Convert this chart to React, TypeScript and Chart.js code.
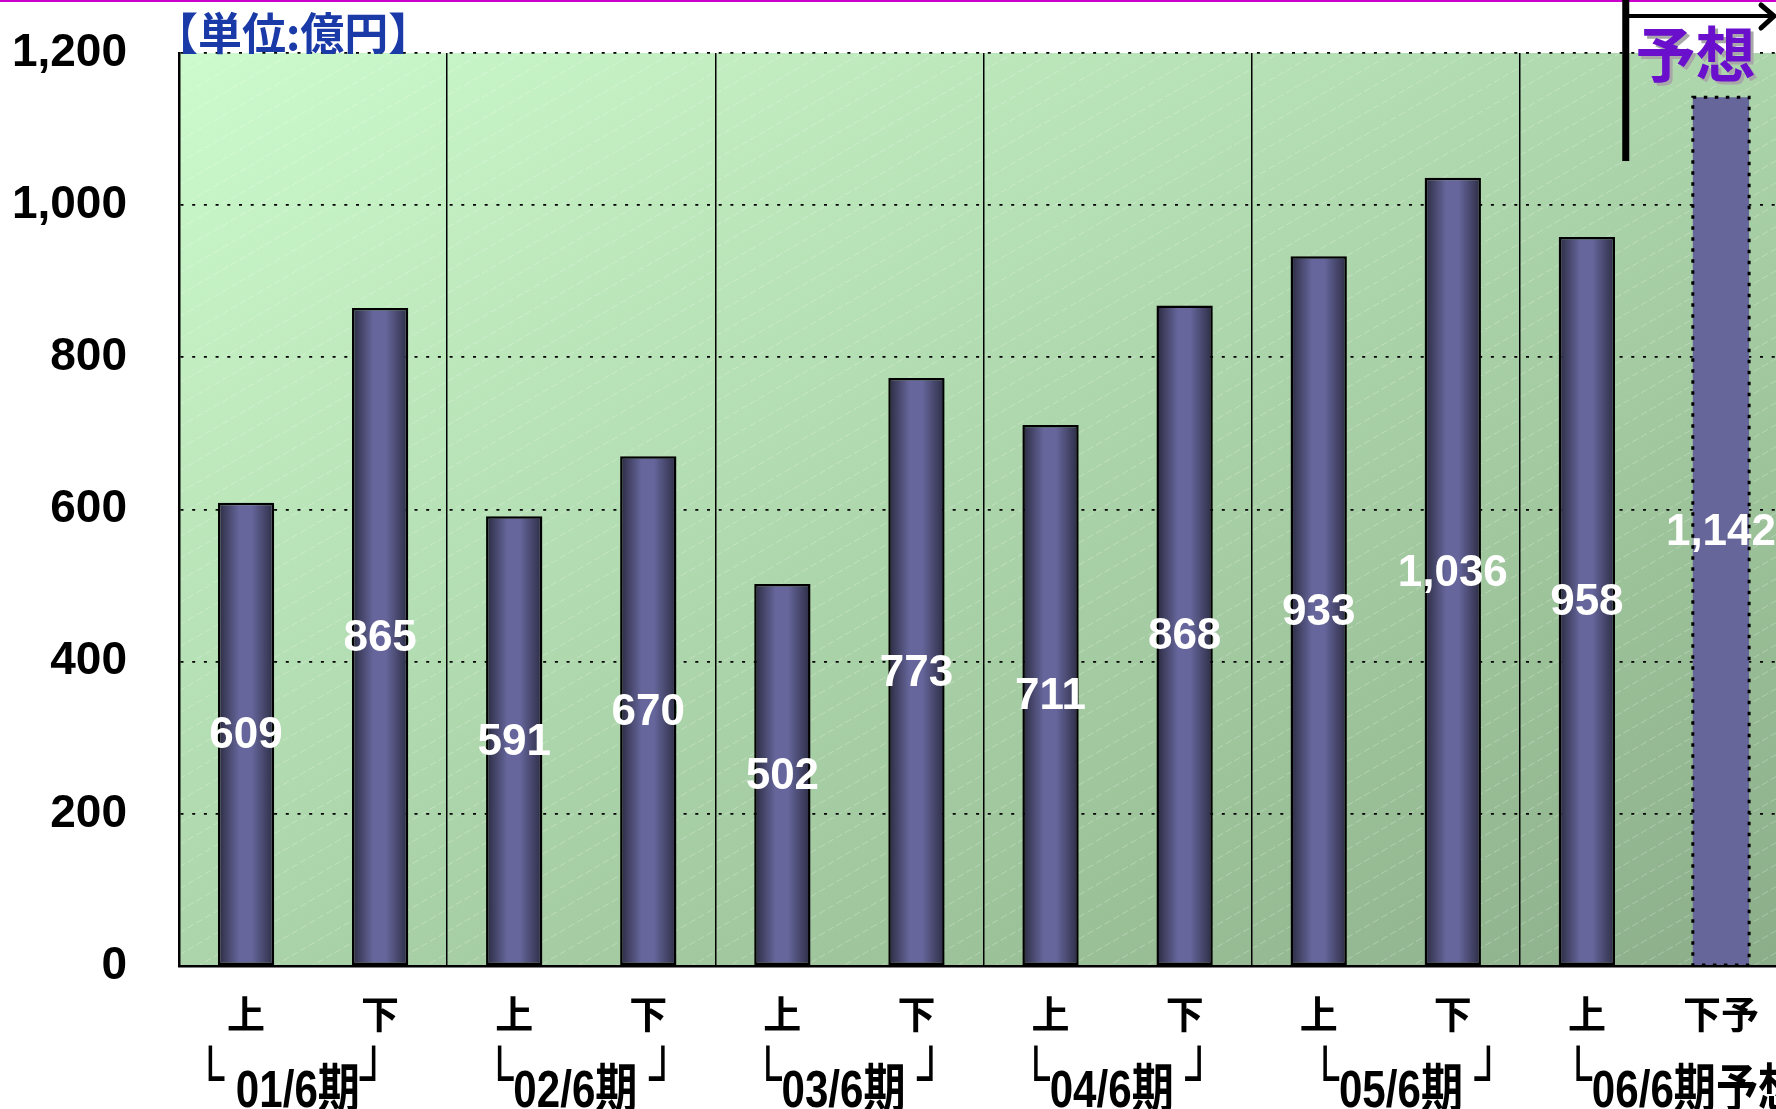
import React, { useEffect, useRef } from 'react';
import { Chart, registerables } from 'chart.js';

Chart.register(...registerables);

// ---- data ----
const halfLabels = ['上', '下', '上', '下', '上', '下', '上', '下', '上', '下', '上', '下予'];
const periodLabels = ['└ 01/6期┘　', '└02/6期 ┘', '└03/6期 ┘', '└04/6期 ┘', '　└05/6期 ┘', '　　└06/6期予想┘'];
const salesValues = [609, 865, 591, 670, 502, 773, 711, 868, 933, 1036, 958, 1142];
const forecastIndexes = [11];
const yMin = 0;
const yMax = 1200;
const yStep = 200;
const unitLabel = '【単位:億円】';
const forecastLabel = '予想';

const CW = 1792;
const CH = 1109;

const zeroPad = (s: any) => {
  s.paddingTop = 0;
  s.paddingBottom = 0;
  s.paddingLeft = 0;
  s.paddingRight = 0;
};

const BOX_CHARS = '└┘';

export default function App() {
  const ref = useRef<HTMLCanvasElement>(null);

  useEffect(() => {
    const canvas = ref.current;
    if (!canvas) return;

    const bgPlugin = {
      id: 'bgPlugin',
      beforeDraw(chart: any) {
        const { ctx, chartArea: a } = chart;
        const w = a.right - a.left;
        const h = a.bottom - a.top;
        const k = (2 * w * h) / (w * w + h * h);
        const g = ctx.createLinearGradient(a.left, a.top, a.left + k * h, a.top + k * w);
        g.addColorStop(0, '#cdfbcd');
        g.addColorStop(1, '#8bae88');
        ctx.save();
        ctx.fillStyle = g;
        ctx.fillRect(a.left, a.top, w, h);
        ctx.beginPath();
        ctx.rect(a.left, a.top, w, h);
        ctx.clip();
        ctx.strokeStyle = 'rgba(255,255,255,0.26)';
        ctx.lineWidth = 1;
        ctx.setLineDash([7, 3]);
        const slope = 0.58;
        for (let y0 = a.top; y0 < a.bottom + w * slope; y0 += 22) {
          ctx.beginPath();
          ctx.moveTo(a.left, y0);
          ctx.lineTo(a.right, y0 - w * slope);
          ctx.stroke();
        }
        ctx.restore();
      },
    };

    const barPlugin = {
      id: 'barPlugin',
      beforeDatasetsDraw(chart: any) {
        const { ctx } = chart;
        const meta = chart.getDatasetMeta(0);
        meta.data.forEach((el: any, i: number) => {
          if (forecastIndexes.includes(i)) return;
          const half = el.width / 2;
          const g = ctx.createLinearGradient(el.x - half, 0, el.x + half, 0);
          g.addColorStop(0, '#2a2a40');
          g.addColorStop(0.38, '#66669c');
          g.addColorStop(0.6, '#66669c');
          g.addColorStop(1, '#2c2c44');
          el.options = { ...el.options, backgroundColor: g };
        });
      },
      afterDatasetsDraw(chart: any) {
        const { ctx } = chart;
        const meta = chart.getDatasetMeta(0);
        ctx.save();
        meta.data.forEach((el: any, i: number) => {
          if (forecastIndexes.includes(i)) {
            const half = el.width / 2;
            ctx.strokeStyle = '#000';
            ctx.lineWidth = 3;
            ctx.setLineDash([3.5, 7.5]);
            ctx.strokeRect(el.x - half, el.y, el.width, el.base - el.y);
            ctx.setLineDash([]);
          }
        });
        ctx.fillStyle = '#ffffff';
        ctx.font = "bold 44px 'Liberation Sans', Arial, sans-serif";
        ctx.textAlign = 'center';
        ctx.textBaseline = 'middle';
        meta.data.forEach((el: any, i: number) => {
          const v = salesValues[i];
          ctx.fillText(v.toLocaleString('en-US'), el.x, (el.y + el.base) / 2 + 2);
        });
        ctx.restore();
      },
    };

    const periodLabelPlugin = {
      id: 'periodLabelPlugin',
      afterDraw(chart: any) {
        const { ctx } = chart;
        const s = chart.scales.p;
        const boxFont = "56px 'DejaVu Sans', sans-serif";
        const txtFont = "bold 52px 'Liberation Sans', 'Noto Sans CJK JP', sans-serif";
        ctx.save();
        ctx.fillStyle = '#000';
        ctx.textAlign = 'left';
        periodLabels.forEach((lab, i) => {
          const runs: { t: string; box: boolean; w: number }[] = [];
          for (const ch of lab) {
            const box = BOX_CHARS.includes(ch);
            const last = runs[runs.length - 1];
            if (last && last.box === box) last.t += ch;
            else runs.push({ t: ch, box, w: 0 });
          }
          let total = 0;
          runs.forEach((r) => {
            ctx.font = r.box ? boxFont : txtFont;
            r.w = ctx.measureText(r.t).width;
            total += r.w;
          });
          const cx = s.getPixelForValue(i);
          ctx.save();
          ctx.translate(cx, s.top);
          ctx.scale(0.81, 1);
          let x = -total / 2;
          runs.forEach((r) => {
            ctx.font = r.box ? boxFont : txtFont;
            if (r.box) {
              ctx.textBaseline = 'middle';
              ctx.fillText(r.t, x, 46);
            } else {
              ctx.textBaseline = 'alphabetic';
              ctx.fillText(r.t, x, 70);
            }
            x += r.w;
          });
          ctx.restore();
        });
        ctx.restore();
      },
    };

    const decoPlugin = {
      id: 'decoPlugin',
      afterDraw(chart: any) {
        const { ctx, chartArea: a, scales } = chart;
        ctx.save();
        ctx.fillStyle = '#cc00cc';
        ctx.fillRect(0, 0, chart.width, 2);
        ctx.fillStyle = '#1a3aa8';
        ctx.font = "bold 44px 'Noto Sans CJK JP', sans-serif";
        ctx.textAlign = 'left';
        ctx.textBaseline = 'middle';
        ctx.fillText(unitLabel, a.left - 25, a.top - 20);
        const ax = scales.x.getPixelForValue(10.29);
        const ayBottom = scales.y.getPixelForValue(1058);
        ctx.fillStyle = '#000';
        ctx.fillRect(ax - 3.5, 0, 7, ayBottom);
        const arrowY = 16;
        const tipX = 1774;
        ctx.fillRect(ax, arrowY - 2, tipX - ax - 2, 4);
        ctx.strokeStyle = '#000';
        ctx.lineWidth = 5;
        ctx.lineCap = 'round';
        ctx.beginPath();
        ctx.moveTo(tipX - 13, arrowY - 11);
        ctx.lineTo(tipX, arrowY);
        ctx.lineTo(tipX - 13, arrowY + 12);
        ctx.stroke();
        ctx.font = "bold 60px 'Noto Sans CJK JP', sans-serif";
        ctx.textAlign = 'center';
        ctx.textBaseline = 'middle';
        const tx = scales.x.getPixelForValue(10.81);
        ctx.fillStyle = '#a8a8a8';
        ctx.fillText(forecastLabel, tx + 3, 57);
        ctx.fillStyle = '#6a10cc';
        ctx.fillText(forecastLabel, tx, 54);
        ctx.restore();
      },
    };

    const chart = new Chart(canvas, {
      type: 'bar',
      data: {
        labels: halfLabels,
        datasets: [
          {
            label: '売上高',
            data: salesValues,
            backgroundColor: '#66669a',
            borderColor: '#000000',
            borderWidth: salesValues.map((_, i) => (forecastIndexes.includes(i) ? 0 : 2.5)),
            borderSkipped: false,
            barPercentage: 0.42,
            categoryPercentage: 1,
            xAxisID: 'x',
            yAxisID: 'y',
          },
        ],
      },
      options: {
        responsive: false,
        animation: false,
        devicePixelRatio: 1,
        layout: { padding: { top: 53, right: 4, left: 0, bottom: 0 } },
        plugins: {
          legend: { display: false },
          tooltip: { enabled: false },
          title: { display: false },
        },
        scales: {
          x: {
            type: 'category',
            position: 'bottom',
            weight: 0,
            offset: true,
            grid: { display: false, drawTicks: false },
            border: { display: true, color: '#000', width: 2.5 },
            ticks: {
              color: '#000',
              padding: 25,
              maxRotation: 0,
              autoSkip: false,
              font: { family: "'Noto Sans CJK JP', sans-serif", size: 38, weight: 'bold' },
            },
            afterFit: (s: any) => {
              s.height = 71;
              zeroPad(s);
            },
          },
          p: {
            type: 'category',
            position: 'bottom',
            weight: 1,
            labels: periodLabels,
            offset: true,
            grid: { display: true, offset: true, drawTicks: false, color: '#000', lineWidth: 1.5 },
            border: { display: false },
            ticks: { display: false },
            afterFit: (s: any) => {
              s.height = 72;
              zeroPad(s);
            },
          },
          y: {
            type: 'linear',
            position: 'left',
            min: yMin,
            max: yMax,
            grid: { display: true, drawTicks: false, color: '#000', lineWidth: 1.8 },
            border: { display: true, color: '#000', width: 2.5, dash: [3, 8.7] },
            ticks: {
              stepSize: yStep,
              color: '#000',
              padding: 52,
              font: { family: "'Liberation Sans', Arial, sans-serif", size: 46, weight: 'bold' },
              callback: (v: any) => Number(v).toLocaleString('en-US'),
            },
            afterFit: (s: any) => {
              s.width = 179;
              zeroPad(s);
            },
          },
        },
      },
      plugins: [bgPlugin, barPlugin, periodLabelPlugin, decoPlugin],
    } as any);

    return () => chart.destroy();
  }, []);

  return (
    <div
      style={{
        position: 'absolute',
        left: 0,
        top: 0,
        width: 1776,
        height: 1109,
        overflow: 'hidden',
        background: '#ffffff',
      }}
    >
      <canvas ref={ref} width={CW} height={CH} style={{ width: CW, height: CH, display: 'block' }} />
    </div>
  );
}
